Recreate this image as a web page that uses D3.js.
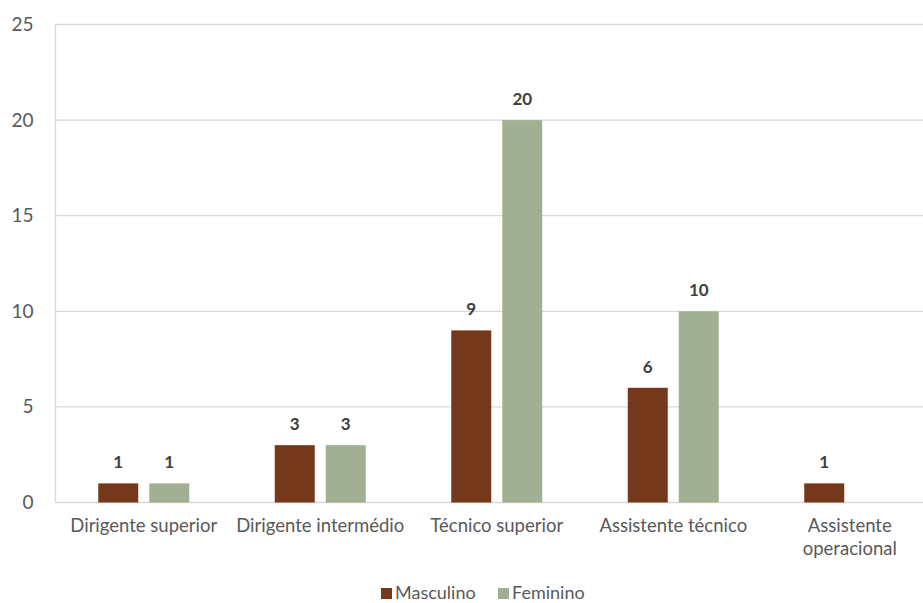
<!DOCTYPE html>
<html>
<head>
<meta charset="utf-8">
<script src="https://cdn.jsdelivr.net/npm/d3@7"></script>
<style>
  html, body { margin: 0; padding: 0; background: #fff; }
  svg { display: block; font-family: Lato, "Open Sans", sans-serif; }
</style>
</head>
<body>
<svg id="chart" width="923" height="603"></svg>
<script>
// Staff by position and sex
const categories = ["Dirigente superior", "Dirigente intermédio", "Técnico superior", "Assistente técnico", "Assistente operacional"];
const seriesNames = ["Masculino", "Feminino"];
const masculino = [1, 3, 9, 6, 1];
const feminino = [1, 3, 20, 10, null];
const yTicks = [0, 5, 10, 15, 20, 25];
const colors = ["#75381b", "#a1af92"];

const svg = d3.select("#chart");
const W = 923, H = 603;
const plotLeft = 55.5, plotRight = 938, plotTop = 24.5, plotBottom = 502.5;

const x0 = d3.scaleBand().domain(categories).range([plotLeft, plotRight]).padding(0);
const groupW = 91;
const x1 = d3.scaleBand().domain(seriesNames)
  .range([x0.bandwidth() / 2 - groupW / 2, x0.bandwidth() / 2 + groupW / 2])
  .paddingInner(0.216).paddingOuter(0);
const y = d3.scaleLinear().domain([0, 25]).range([plotBottom, plotTop]);

// horizontal gridlines
svg.append("g").selectAll("line").data(yTicks).join("line")
  .attr("x1", plotLeft).attr("x2", W)
  .attr("y1", d => y(d)).attr("y2", d => y(d))
  .attr("stroke", "#d9d9d9").attr("stroke-width", 1.3);

// left axis line
svg.append("line").attr("x1", plotLeft).attr("x2", plotLeft)
  .attr("y1", plotTop).attr("y2", plotBottom)
  .attr("stroke", "#d9d9d9").attr("stroke-width", 1.3);

// y tick labels
const yAxis = d3.axisLeft(y).tickValues(yTicks).tickSize(0).tickPadding(22);
const ga = svg.append("g").attr("transform", `translate(${plotLeft},0)`).call(yAxis);
ga.select(".domain").remove();
ga.selectAll("text").attr("font-family", "Lato, sans-serif").attr("font-size", 19)
  .attr("fill", "#595959");

// bars
const rows = categories.map((c, i) => ({ cat: c, vals: [masculino[i], feminino[i]] }));
const groups = svg.append("g").selectAll("g").data(rows).join("g")
  .attr("transform", d => `translate(${x0(d.cat)},0)`);

groups.selectAll("rect")
  .data(d => d.vals.map((v, j) => ({ s: seriesNames[j], v, j })).filter(e => e.v != null))
  .join("rect")
  .attr("x", e => x1(e.s)).attr("width", x1.bandwidth())
  .attr("y", e => y(e.v)).attr("height", e => y(0) - y(e.v))
  .attr("fill", e => colors[e.j]);

// value labels
groups.selectAll("text.val")
  .data(d => d.vals.map((v, j) => ({ s: seriesNames[j], v, j })).filter(e => e.v != null))
  .join("text").attr("class", "val")
  .attr("x", e => x1(e.s) + x1.bandwidth() / 2)
  .attr("y", e => y(e.v) - 15)
  .attr("text-anchor", "middle")
  .attr("font-size", 17).attr("font-weight", "bold").attr("fill", "#404040")
  .text(e => e.v);

// category labels
const catLines = {
  "Assistente operacional": ["Assistente", "operacional"]
};
const cl = svg.append("g").selectAll("text").data(categories).join("text")
  .attr("text-anchor", "middle")
  .attr("font-size", 18.5).attr("fill", "#595959")
  .attr("transform", d => `translate(${x0(d) + x0.bandwidth() / 2},532)`);
cl.each(function(d) {
  const lines = catLines[d] || [d];
  d3.select(this).selectAll("tspan").data(lines).join("tspan")
    .attr("x", 0).attr("dy", (l, i) => i === 0 ? 0 : 23).text(l => l);
});

// legend
const legendItems = [
  { name: seriesNames[0], x: 381 },
  { name: seriesNames[1], x: 498 }
];
const lg = svg.append("g").selectAll("g").data(legendItems).join("g")
  .attr("transform", d => `translate(${d.x},0)`);
lg.append("rect").attr("x", 0).attr("y", 588).attr("width", 11).attr("height", 11)
  .attr("fill", (d, i) => colors[i]);
lg.append("text").attr("x", 14).attr("y", 599)
  .attr("font-size", 18).attr("fill", "#595959").text(d => d.name);
</script>
</body>
</html>
